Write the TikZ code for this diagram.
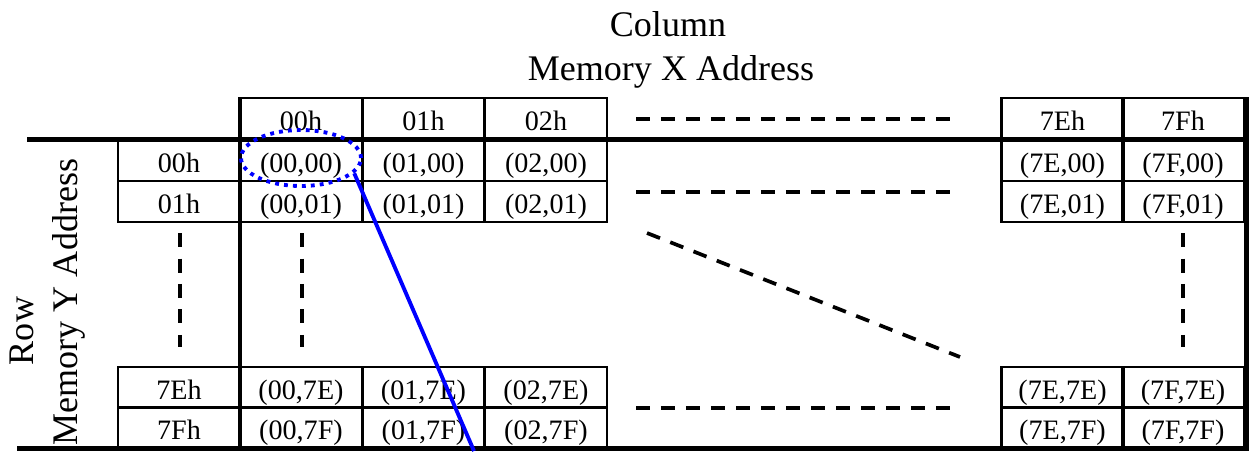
\documentclass[tikz,border=0pt]{standalone}
\usepackage{fontspec}
\setmainfont{Liberation Serif}
\usetikzlibrary{shapes.geometric}

\tikzset{
    cell/.style={draw, line width=1.6pt, minimum width=2.44cm, minimum height=0.82cm,
        inner sep=0pt, text height=0.5cm, text depth=0.04cm, font=\fontsize{16}{19}\selectfont},
    bar/.style={line width=2.8pt},
    gap/.style={line width=2.1pt, dash pattern=on 0.28cm off 0.22cm},
    vgap/.style={line width=2.1pt, dash pattern=on 0.28cm off 0.23cm},
    heading/.style={font=\fontsize{20.5}{24}\selectfont, inner sep=0pt, anchor=base},
}

\begin{document}
\begin{tikzpicture}[x=0.02cm, y=-0.02cm]
    \useasboundingbox (0,0) rectangle (1249,451);

    % Titel
    \node[heading] (coltitle) at (668, 36) {Column};
    \node[heading] (xaddr) at (671, 80) {Memory X Address};
    \node[heading, rotate=90] (rowtitle) at (33, 331) {Row};
    \node[heading, rotate=90] (yaddr) at (77, 302) {Memory Y Address};

    % Zeilenadressen
    \foreach \ry/\rn in {160.5/00, 201.5/01, 387.5/7E, 428/7F} {
        \node[cell] (r\rn) at (179, \ry) {\rn h};
    }

    % Spaltenadressen und Zellen
    \foreach \cx/\cn in {301/00, 423.5/01, 546/02, 1062.5/7E, 1183/7F} {
        \node[cell] (h\cn) at (\cx, 118.5) {\cn h};
        \foreach \ry/\rn in {160.5/00, 201.5/01, 387.5/7E, 428/7F} {
            \node[cell] (c\cn-\rn) at (\cx, \ry) {(\cn,\rn)};
        }
    }
    \draw[line width=1.6pt] (c7F-01.south east) -- (c7F-7E.north east);

    % Achsen
    \draw[bar] (27, 139.5) -- (1249, 139.5);
    \draw[bar] (240, 97) -- (240, 451);
    \draw[bar] (17, 448.5) -- (1246.5, 448.5);
    \draw[bar] (1246.5, 97) -- (1246.5, 451);

    % Auslassungen
    \draw[gap] (636, 119) -- (950, 119);
    \draw[gap] (636, 192) -- (950, 192);
    \draw[gap] (636, 408) -- (950, 408);
    \draw[gap] (647, 233) -- (960, 357);
    \foreach \vx in {180, 302, 1183} {
        \draw[vgap] (\vx, 233) -- (\vx, 347);
    }

    % Markierung
    \node[draw=blue, ellipse, line width=2.2pt, dash pattern=on 2.2pt off 2.9pt,
        minimum width=2.4cm, minimum height=1.12cm, inner sep=0pt] (pick) at (301, 158) {};
    \coordinate (tail) at (474, 451);
    \draw[blue, line width=2.2pt] (pick.-16) -- (tail);
\end{tikzpicture}
\end{document}
